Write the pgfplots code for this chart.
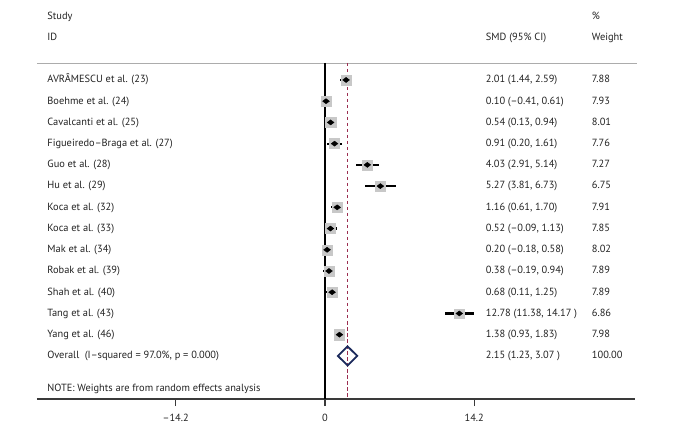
\documentclass[border=0pt]{standalone}
\usepackage{fontspec}
\setmainfont{PT Sans}
\usepackage{pgfplots}
\usepackage{pgfplotstable}
\pgfplotsset{compat=1.18}
\definecolor{txt}{HTML}{222222}
\definecolor{boxgray}{HTML}{C8C8C8}
\definecolor{dashred}{HTML}{9B2D50}
\definecolor{navy}{HTML}{1C2A5C}
\definecolor{axgray}{HTML}{3A3A3A}
\pgfplotstableread{
r smd lo hi w
1 2.01 1.44 2.59 7.88
2 0.10 -0.41 0.61 7.93
3 0.54 0.13 0.94 8.01
4 0.91 0.20 1.61 7.76
5 4.03 2.91 5.14 7.27
6 5.27 3.81 6.73 6.75
7 1.16 0.61 1.70 7.91
8 0.52 -0.09 1.13 7.85
9 0.20 -0.18 0.58 8.02
10 0.38 -0.19 0.94 7.89
11 0.68 0.11 1.25 7.89
12 12.78 11.38 14.17 6.86
13 1.38 0.93 1.83 7.98
}\studies
\newcommand\rowtext[4]{%
  \node[lbl] at (axis cs:-26.43,-#1) {#2};
  \node[lbl] at (axis cs:15.30,-#1) {#3};
  \node[lbl] at (axis cs:25.38,-#1) {#4};}
\begin{document}
\begin{tikzpicture}[
  lbl/.style={anchor=west, inner sep=0pt, text=txt, font=\fontsize{10.4bp}{12bp}\selectfont, text height=1.45ex, text depth=0.3ex}]
\begin{axis}[
  scale only axis, width=598bp, height=336bp,
  xmin=-27.4, xmax=29.5, ymin=-16.03, ymax=-0.2,
  axis x line*=bottom, axis y line=none,
  x axis line style={-, draw=axgray, line width=1.9bp},
  xtick={-14.2,0,14.2}, xticklabels={--14.2,0,14.2},
  tick style={draw=axgray, line width=1.3bp},
  major tick length=7bp, tick align=outside,
  xticklabel style={font=\fontsize{10.4bp}{12bp}\selectfont, text=txt, inner sep=0pt, yshift=-8bp},
  /pgf/number format/assume math mode=true,
  clip=false,
]
% bounding box of whole figure
\path (axis cs:-30.92,2.768) rectangle (axis cs:33.21,-17.53);
% top separator line
\addplot[gray!65, line width=0.8bp] coordinates {(-27.4,-0.2) (29.7,-0.2)};
% null line
\addplot[black, line width=1.3bp] coordinates {(0,-0.2) (0,-16.03)};
% overall effect dashed line
\addplot[dashred, line width=1.2bp, dash pattern=on 3.5bp off 2.5bp] coordinates {(2.15,-0.2) (2.15,-16.03)};
% weight boxes
\addplot[scatter, only marks, mark=square*,
  scatter/use mapped color={draw=boxgray, fill=boxgray},
  visualization depends on={1.8*sqrt(\thisrow{w}) \as \msize},
  scatter/@pre marker code/.append style={/tikz/mark size=\msize}]
  table[x=smd, y expr=-\thisrow{r}] {\studies};
% CIs and point estimates
\addplot[only marks, mark=diamond*, mark size=3.4bp, mark options={fill=black, draw=black, rotate=90},
  error bars/.cd, x dir=both, x explicit, error mark=none,
  error bar style={line width=2.2bp, black}]
  table[x=smd, y expr=-\thisrow{r}, x error plus expr=\thisrow{hi}-\thisrow{smd}, x error minus expr=\thisrow{smd}-\thisrow{lo}] {\studies};
% overall diamond
\addplot[draw=navy, line width=1.8bp, fill=none, line join=miter] coordinates {(1.23,-14) (2.15,-13.55) (3.07,-14) (2.15,-14.45)} -- cycle;
% headers
\node[lbl] at (axis cs:-26.43,2) {Study};
\node[lbl] at (axis cs:-26.43,1) {ID};
\node[lbl] at (axis cs:15.30,1) {SMD (95\% CI)};
\node[lbl] at (axis cs:25.38,2) {\%};
\node[lbl] at (axis cs:25.38,1) {Weight};
\rowtext{1}{AVRÂMESCU et al. (23)}{2.01 (1.44, 2.59)}{7.88}
\rowtext{2}{Boehme et al. (24)}{0.10 (--0.41, 0.61)}{7.93}
\rowtext{3}{Cavalcanti et al. (25)}{0.54 (0.13, 0.94)}{8.01}
\rowtext{4}{Figueiredo--Braga et al. (27)}{0.91 (0.20, 1.61)}{7.76}
\rowtext{5}{Guo et al. (28)}{4.03 (2.91, 5.14)}{7.27}
\rowtext{6}{Hu et al. (29)}{5.27 (3.81, 6.73)}{6.75}
\rowtext{7}{Koca et al. (32)}{1.16 (0.61, 1.70)}{7.91}
\rowtext{8}{Koca et al. (33)}{0.52 (--0.09, 1.13)}{7.85}
\rowtext{9}{Mak et al. (34)}{0.20 (--0.18, 0.58)}{8.02}
\rowtext{10}{Robak et al. (39)}{0.38 (--0.19, 0.94)}{7.89}
\rowtext{11}{Shah et al. (40)}{0.68 (0.11, 1.25)}{7.89}
\rowtext{12}{Tang et al. (43)}{12.78 (11.38, 14.17 )}{6.86}
\rowtext{13}{Yang et al. (46)}{1.38 (0.93, 1.83)}{7.98}
\rowtext{14}{Overall\ \ (I--squared = 97.0\%, p = 0.000)}{2.15 (1.23, 3.07 )}{100.00}
\node[lbl] at (axis cs:-26.43,-15.55) {NOTE: Weights are from random effects analysis};
\end{axis}
\end{tikzpicture}
\end{document}
